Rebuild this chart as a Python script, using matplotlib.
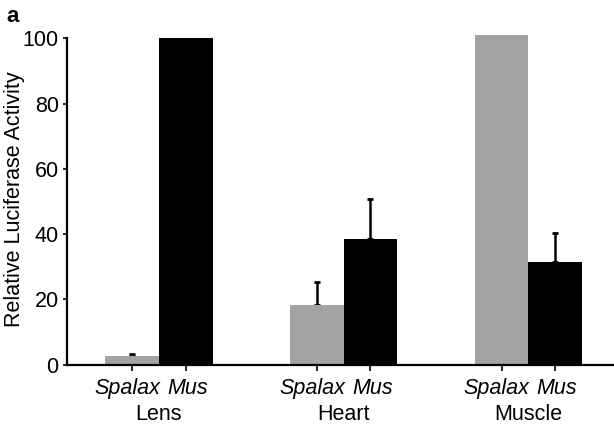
import matplotlib
matplotlib.use("Agg")
import matplotlib.pyplot as plt
import matplotlib.transforms as mtransforms
import numpy as np

plt.rcParams['font.family'] = ['Liberation Sans', 'DejaVu Sans']

tissues = ["Lens", "Heart", "Muscle"]
species = ["Spalax", "Mus"]
spalax_vals = [2.5, 18.2, 101.0]
mus_vals = [100.0, 38.4, 31.5]
spalax_err = [0.6, 7.2, 0.0]
mus_err = [0.0, 12.3, 8.7]
yticks = [0, 20, 40, 60, 80, 100]

fs = 15.5
fig = plt.figure(figsize=(6.14, 4.29), dpi=100)
ax = fig.add_axes([0.1091, 0.1503, 0.8909, 0.7756])

w = 0.29
x = np.arange(len(tissues))
gray = "#a3a3a3"
ax.bar(x - w / 2, spalax_vals, width=w, color=gray, linewidth=0, zorder=2)
ax.bar(x + w / 2, mus_vals, width=w, color="black", linewidth=0, zorder=2)

for xi, v, e in zip(x - w / 2, spalax_vals, spalax_err):
    if e > 0:
        ax.errorbar([xi], [v], yerr=[[0], [e]], fmt="none", ecolor="black",
                    elinewidth=1.8, capsize=2.2, capthick=2, zorder=1)
for xi, v, e in zip(x + w / 2, mus_vals, mus_err):
    if e > 0:
        ax.errorbar([xi], [v], yerr=[[0], [e]], fmt="none", ecolor="black",
                    elinewidth=1.8, capsize=2.2, capthick=2, zorder=1)

ax.set_xlim(-0.498, 2.464)
ax.set_ylim(0, 102)
ax.spines['top'].set_visible(False)
ax.spines['right'].set_visible(False)
ax.spines['left'].set_bounds(0, 100)
ax.spines['left'].set_linewidth(1.6)
ax.spines['bottom'].set_linewidth(1.6)

ax.set_yticks(yticks)
ax.set_yticklabels([str(t) for t in yticks], fontsize=fs)
ax.tick_params(axis='y', length=3, width=1.2, pad=3)

tick_pos = np.concatenate([x - w / 2, x + w / 2])
tick_lab = [species[0]] * len(x) + [species[1]] * len(x)
order = np.argsort(tick_pos)
ax.set_xticks(tick_pos[order])
ax.set_xticklabels([tick_lab[i] for i in order], fontsize=fs, fontstyle='italic')
ax.tick_params(axis='x', length=4, width=1.2, pad=6)
for lab in ax.get_xticklabels():
    if lab.get_text() == species[0]:
        lab.set_transform(lab.get_transform() +
                          mtransforms.ScaledTranslation(-5 / 100, 0, fig.dpi_scale_trans))
    else:
        lab.set_transform(lab.get_transform() +
                          mtransforms.ScaledTranslation(2 / 100, 0, fig.dpi_scale_trans))

trans = mtransforms.blended_transform_factory(ax.transData, fig.transFigure)
for xi, t in zip(x, tissues):
    ax.text(xi, 1 - 415 / 429, t, transform=trans, ha='center', va='center', fontsize=fs)

fig.text(15 / 614, 1 - 199.5 / 429, "Relative Luciferase Activity", rotation=90,
         ha='center', va='center', fontsize=fs)

fig.text(13 / 614, 1 - 16 / 429, "a", fontsize=16, fontweight='bold', ha='center', va='center')

fig.savefig("out.png", dpi=100)
